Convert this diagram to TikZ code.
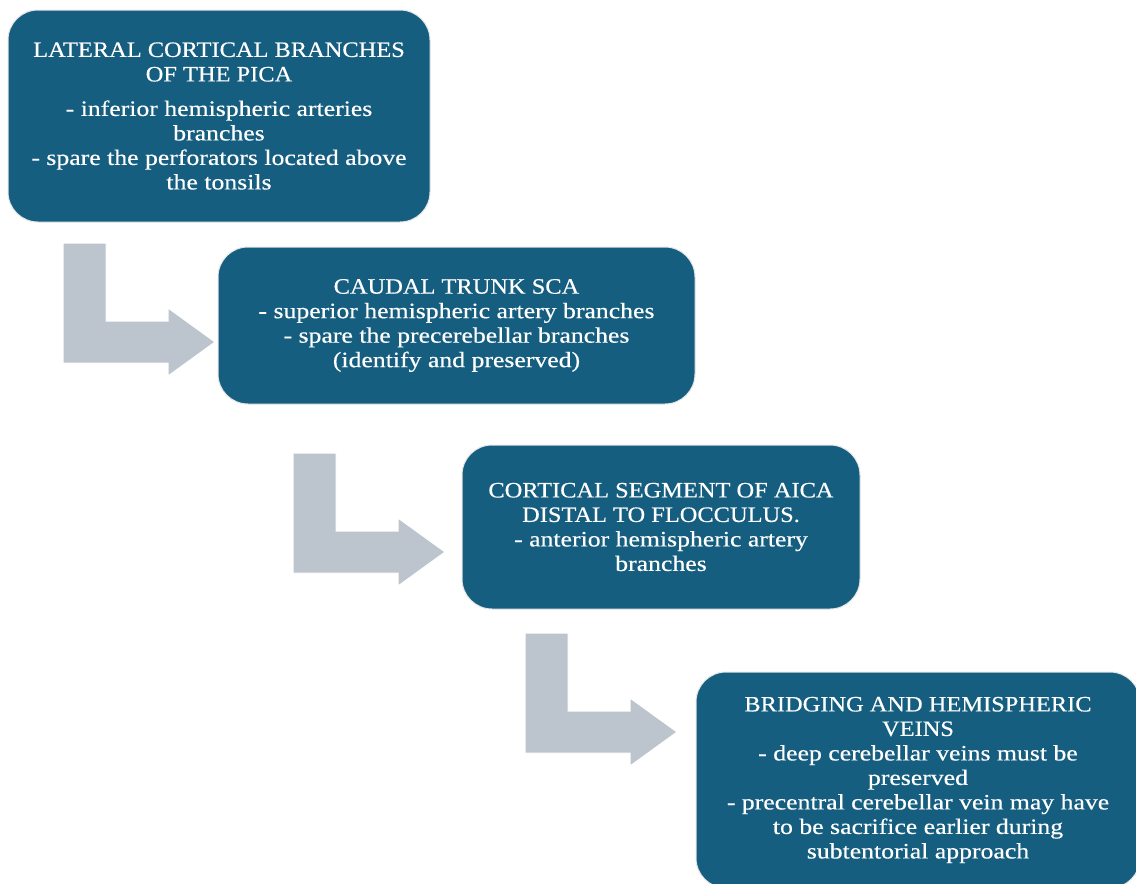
\documentclass[tikz,border=0pt]{standalone}
\usepackage{fontspec}
\setmainfont{Liberation Serif}[FakeStretch=1.17,FakeBold=0.4]
\newfontfamily\boxtitlefont{Liberation Serif}[FakeStretch=1.11,FakeBold=0.4]
\usetikzlibrary{calc}
\definecolor{boxblue}{RGB}{22,94,128}
\definecolor{arrowgray}{RGB}{188,196,205}
\tikzset{
  x=1pt,y=1pt,
  stepbox/.style={draw=black!10, line width=1pt, fill=boxblue, rounded corners=30pt,
    text=white, align=center, inner sep=0pt,
    font=\fontsize{22}{24.5}\selectfont},
  pics/bentarrow/.style={code={
    \fill[arrowgray, draw=white, line width=1pt]
      (0,0) -- (43,0) -- (43,-78) -- (105,-78) -- (105,-65) -- (152,-99)
      -- (105,-133) -- (105,-120) -- (0,-120) -- cycle;}}
}
\newcommand{\bt}[1]{{\boxtitlefont #1}}
\begin{document}
\begin{tikzpicture}
\useasboundingbox (0,0) rectangle (1136,-884);
\begin{scope}
\clip (0,0) rectangle (1136,-884);
\node[stepbox, minimum width=422pt, minimum height=212pt] (b1) at (219,-116)
  {\bt{LATERAL CORTICAL BRANCHES}\\\bt{OF THE PICA}\\[10pt]- inferior hemispheric arteries\\branches\\- spare the perforators located above\\the tonsils};
\node[stepbox, minimum width=477pt, minimum height=157pt] (b2) at (456.5,-325.5)
  {\bt{CAUDAL TRUNK SCA}\\- superior hemispheric artery branches\\- spare the precerebellar branches\\(identify and preserved)};
\node[stepbox, minimum width=398pt, minimum height=164pt] (b3) at (661,-527)
  {\bt{CORTICAL SEGMENT OF AICA}\\\bt{DISTAL TO FLOCCULUS.}\\- anterior hemispheric artery\\branches};
\node[stepbox, minimum width=444pt, minimum height=216pt] (b4) at (918,-780)
  {\bt{BRIDGING AND HEMISPHERIC}\\\bt{VEINS}\\- deep cerebellar veins must be\\preserved\\- precentral cerebellar vein may have\\to be sacrifice earlier during\\subtentorial approach};
\pic (a1) at (63,-243) {bentarrow};
\pic (a2) at (293,-453) {bentarrow};
\pic (a3) at (525,-633) {bentarrow};
\end{scope}
\end{tikzpicture}
\end{document}
